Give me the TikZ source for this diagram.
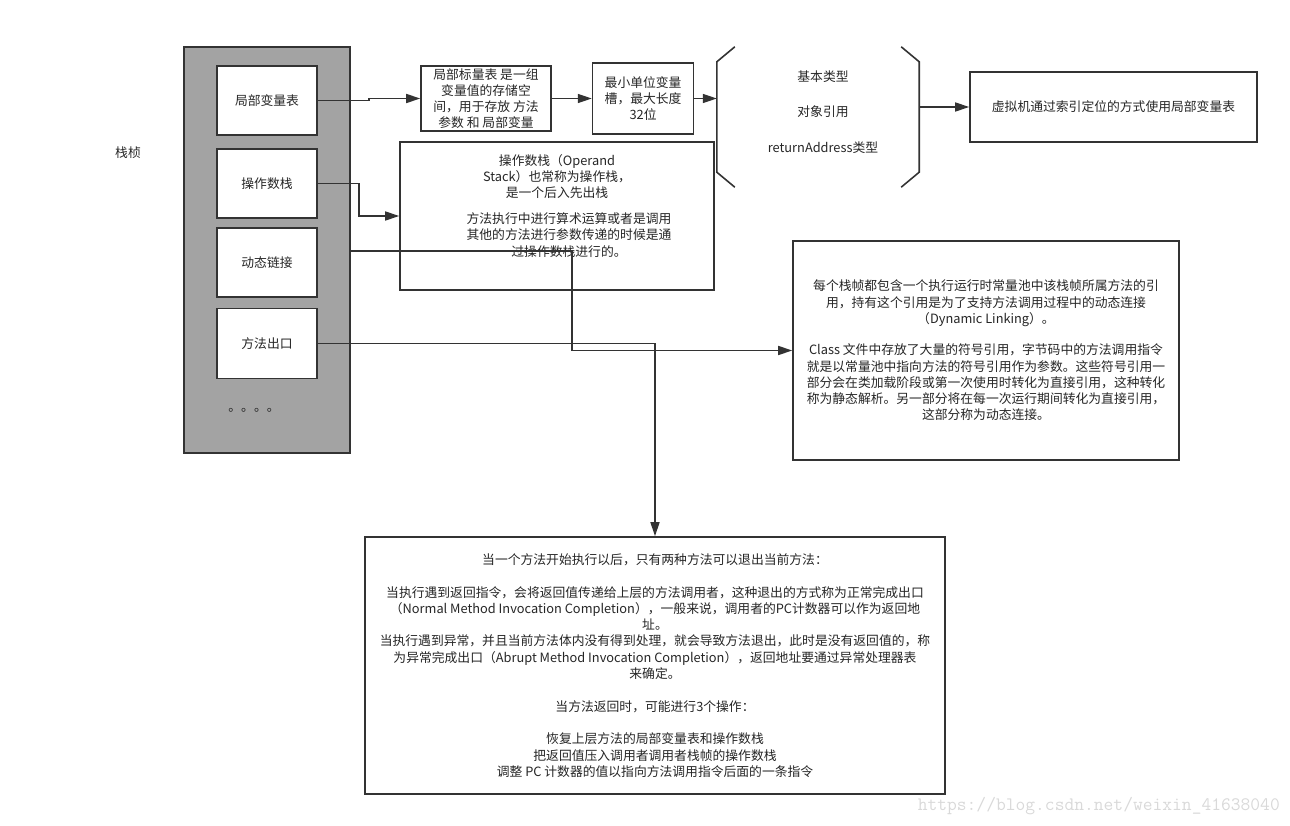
\documentclass[tikz,border=0pt]{standalone}
\usepackage{fontspec}
\setmainfont{Noto Sans CJK SC}
\usetikzlibrary{arrows.meta,positioning}
\definecolor{linegray}{HTML}{333333}
\definecolor{framegray}{HTML}{A3A3A3}
\definecolor{markgray}{HTML}{D9D9D9}
\tikzset{
  box/.style={draw=linegray, line width=1.6pt, fill=white, align=center, inner sep=2pt,
    font=\fontsize{12.8}{16.3}\selectfont, text=black!85},
  stackframe/.style={draw=linegray, line width=1.6pt, fill=framegray},
  txt/.style={align=center, inner sep=0pt, font=\fontsize{12.8}{16.3}\selectfont, text=black!85},
  wire/.style={draw=linegray, line width=1.6pt},
  arrow/.style={wire, -{Triangle[length=14pt,width=9pt]}},
}

\begin{document}
\begin{tikzpicture}[x=1pt, y=-1pt]
  \useasboundingbox (0,0) rectangle (1290,826);

  % STACK FRAME
  \node[stackframe, minimum width=166pt, minimum height=406pt] (frame) at (267,250) {};
  \node[txt] (framelabel) at (128,153) {栈桢};
  \node[box, minimum width=100pt, minimum height=69pt] (lvt) at (267,100.5) {局部变量表};
  \node[box, minimum width=100pt, minimum height=69pt, below=12.5pt of lvt] (opst) {操作数栈};
  \node[box, minimum width=100pt, minimum height=69pt, below=8.5pt of opst] (dyn) {动态链接};
  \node[box, minimum width=100pt, minimum height=70pt, below=9.5pt of dyn] (mexit) {方法出口};
  \node[txt] (more) at (254,410) {。。。。};

  % LOCAL VARIABLE TABLE
  \node[box, minimum width=130pt, minimum height=65pt, font=\fontsize{12.8}{15.8}\selectfont] (lvd) at (486,98.5)
    {局部标量表 是一组\\变量值的存储空\\间，用于存放 方法\\参数 和 局部变量};
  \node[box, minimum width=101pt, minimum height=71pt, right=40pt of lvd] (slot) {最小单位变量\\槽，最大长度\\32位};
  \draw[arrow] (lvt.east) -- ++(51,0) |- (lvd.west);
  \draw[arrow] (lvd) -- (slot);

  % TYPES
  \node[minimum width=202pt, minimum height=140pt, inner sep=0pt] (types) at (818,117) {};
  \draw[wire] ([xshift=18pt]types.north west) -- ([yshift=-15pt]types.north west)
    -- ([yshift=15pt]types.south west) -- ([xshift=18pt]types.south west);
  \draw[wire] ([xshift=-18pt]types.north east) -- ([yshift=-15pt]types.north east)
    -- ([yshift=15pt]types.south east) -- ([xshift=-18pt]types.south east);
  \node[txt] (typelist) at (823,112) {基本类型\\[19pt]对象引用\\[19pt]returnAddress类型};
  \draw[arrow] (slot.east) -- (types.west |- slot.east);

  % VM BOX
  \node[box, minimum width=287pt, minimum height=70pt] (vm) at (1113.5,107) {虚拟机通过索引定位的方式使用局部变量表};
  \draw[arrow] (types.east |- vm.west) -- (vm.west);

  % OPERAND STACK
  \node[box, minimum width=314pt, minimum height=148pt] (operand) at (557,216) {};
  \node[txt] (operandA) at (557,176.5) {操作数栈（Operand\\Stack）也常称为操作栈，\\是一个后入先出栈};
  \node[txt] (operandB) at (569,235) {方法执行中进行算术运算或者是调用\\其他的方法进行参数传递的时候是通\\过操作数栈进行的。};
  \draw[arrow] (opst.east) -- ++(41,0) |- (operand.west);

  % DYNAMIC LINKING
  \node[box, minimum width=386pt, minimum height=219pt] (dynbox) at (986,350.5) {%
    每个栈帧都包含一个执行运行时常量池中该栈帧所属方法的引\\
    用，持有这个引用是为了支持方法调用过程中的动态连接\\
    （Dynamic Linking）。\\[15pt]
    Class 文件中存放了大量的符号引用，字节码中的方法调用指令\\
    就是以常量池中指向方法的符号引用作为参数。这些符号引用一\\
    部分会在类加载阶段或第一次使用时转化为直接引用，这种转化\\
    称为静态解析。另一部分将在每一次运行期间转化为直接引用，\\
    这部分称为动态连接。};
  \coordinate (dynout) at (frame.east |- 0,251);
  \draw[arrow] (dynout) -- ++(221,0) |- (dynbox.west);

  % METHOD RETURN
  \node[box, minimum width=580pt, minimum height=257pt] (retbox) at (655,665.5) {%
    当一个方法开始执行以后，只有两种方法可以退出当前方法：\\[16.3pt]
    当执行遇到返回指令，会将返回值传递给上层的方法调用者，这种退出的方式称为正常完成出口\\
    （Normal Method Invocation Completion），一般来说，调用者的PC计数器可以作为返回地\\
    址。\\
    当执行遇到异常，并且当前方法体内没有得到处理，就会导致方法退出，此时是没有返回值的，称\\
    为异常完成出口（Abrupt Method Invocation Completion），返回地址要通过异常处理器表\\
    来确定。\\[16.3pt]
    当方法返回时，可能进行3个操作：\\[16.3pt]
    恢复上层方法的局部变量表和操作数栈\\
    把返回值压入调用者调用者栈帧的操作数栈\\
    调整 PC 计数器的值以指向方法调用指令后面的一条指令};
  \draw[arrow] (mexit.east) -| (retbox.north);

  % WATERMARK
  \node[font=\ttfamily\fontsize{19}{19}\selectfont, text=markgray, anchor=east, inner sep=0pt] (watermark)
    at (1280,806) {https://blog.csdn.net/weixin\_41638040};
\end{tikzpicture}
\end{document}
